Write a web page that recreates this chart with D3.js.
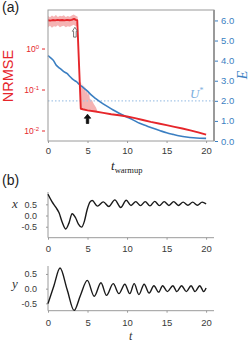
<!DOCTYPE html>
<html><head><meta charset="utf-8">
<script src="https://cdn.jsdelivr.net/npm/d3@7"></script>
<style>
body{margin:0;background:#fff;}
svg{display:block;}
text{font-family:"Liberation Sans",Arial,sans-serif;}
.math{font-family:"Liberation Serif","DejaVu Serif",serif;font-style:italic;}
</style></head><body>
<script>
// ---------- data ----------
const xTicksA = [0, 5, 10, 15, 20];
const nrmseTicks = [1, 0.1, 0.01];
const nrmseTickExp = ["0", "-1", "-2"];
const eTicks = [0, 1, 2, 3, 4, 5, 6];
const uStar = 2;

// red NRMSE mean line
const nrmseT = [0, 0.3, 0.6, 0.9, 1.2, 1.5, 1.8, 2.1, 2.4, 2.7, 3.0, 3.3, 3.5, 3.7, 4.15, 4.4, 5, 6, 7, 8, 9, 10, 11, 12, 13, 14, 15, 16, 17, 18, 19, 20];
const nrmseV = [4.9, 4.8, 4.95, 4.85, 5.0, 4.9, 4.95, 4.85, 5.0, 4.9, 5.0, 5.3, 5.0, 4.9, 0.034, 0.033, 0.031, 0.029, 0.027, 0.025, 0.0235, 0.022, 0.020, 0.018, 0.0162, 0.0148, 0.0135, 0.0123, 0.0112, 0.0101, 0.0090, 0.0079];

// shaded spread, plateau part
const bandT  = [0, 0.25, 0.5, 0.75, 1.0, 1.25, 1.5, 1.75, 2.0, 2.25, 2.5, 2.75, 3.0, 3.25, 3.5, 3.75];
const bandHi = [6.2, 5.8, 6.4, 6.0, 6.6, 5.9, 6.3, 6.1, 6.5, 5.9, 6.2, 6.0, 6.4, 6.8, 6.3, 6.0];
const bandLo = [3.3, 3.6, 3.2, 3.5, 3.4, 3.7, 3.3, 3.5, 3.6, 3.3, 3.5, 3.4, 3.6, 3.8, 3.5, 3.4];
// shaded spread, after the drop
const band2T  = [4.04, 4.17, 4.29, 4.42, 4.55, 4.67, 4.8, 4.92, 5.05, 5.18, 5.3, 5.56, 5.81, 6.06, 6.19];
const band2Hi = [0.144, 0.153, 0.109, 0.136, 0.097, 0.122, 0.082, 0.103, 0.074, 0.087, 0.059, 0.055, 0.044, 0.037, 0.032];
const band2Lo = [0.034, 0.034, 0.033, 0.033, 0.033, 0.032, 0.032, 0.031, 0.031, 0.031, 0.030, 0.030, 0.029, 0.029, 0.029];

// blue E curve
const eT = [0, 0.3, 0.7, 1.0, 1.3, 1.7, 2.0, 2.4, 2.8, 3.2, 3.6, 4.0, 4.5, 5.0, 5.5, 6.0, 6.6, 7.5, 8.25, 9, 9.9, 10.8, 11.6, 12.5, 13.3, 14.2, 15, 15.8, 16.7, 17.5, 18.4, 19.2, 20];
const eV = [4.25, 4.15, 4.0, 3.8, 3.68, 3.55, 3.45, 3.36, 3.2, 3.05, 2.95, 2.8, 2.65, 2.48, 2.28, 2.12, 1.95, 1.72, 1.54, 1.38, 1.21, 1.04, 0.88, 0.75, 0.63, 0.51, 0.41, 0.33, 0.25, 0.2, 0.16, 0.14, 0.13];

// arrows: [t, tip value, tail value]
const arrowT    = [3.4, 5.0];
const arrowTip  = [3.3, 0.025];
const arrowTail = [1.9, 0.0148];

// panel (b)
const xTicksB = [0, 5, 10, 15, 20];
const yTicksB = [0.5, 0.0, -0.5];
const tX = [0, 0.5, 1.0, 1.4, 1.8, 2.25, 2.65, 3.05, 3.5, 3.85, 4.25, 4.6, 4.95, 5.3, 5.6, 6.25, 7.0, 7.7, 8.45, 9.2, 9.9, 10.5, 11.1, 11.7, 12.3, 12.9, 13.5, 14.1, 14.7, 15.3, 15.9, 16.5, 17.1, 17.7, 18.3, 18.9, 19.5, 20];
const vX = [0.95, 0.62, 0.36, 0.12, -0.3, -0.6, -0.34, 0.08, -0.11, -0.38, -0.52, -0.26, 0.26, 0.6, 0.67, 0.42, 0.61, 0.4, 0.7, 0.36, 0.68, 0.45, 0.62, 0.44, 0.62, 0.43, 0.63, 0.44, 0.62, 0.45, 0.62, 0.45, 0.6, 0.46, 0.6, 0.46, 0.6, 0.52];
const tY = [0, 0.75, 1.52, 2.41, 3.3, 4.1, 4.97, 5.85, 6.7, 7.4, 8.25, 8.97, 9.72, 10.35, 10.9, 11.5, 12.16, 12.8, 13.4, 14.0, 14.5, 15.1, 15.8, 16.3, 16.9, 17.5, 18.1, 18.6, 19.2, 19.7, 20];
const vY = [-0.51, 0.1, 0.7, -0.02, -0.74, -0.23, 0.28, -0.26, 0.2, -0.23, 0.17, -0.17, 0.15, -0.17, 0.17, -0.2, 0.15, -0.15, 0.1, -0.12, 0.1, -0.1, 0.1, -0.1, 0.1, -0.1, 0.1, -0.1, 0.1, -0.1, 0.02];

// ---------- drawing ----------
const RED = "#e6262b", BLUE = "#3b7fc2", LBLUE = "#a6c6e8", GRAY = "#9a9a9a", TXT = "#3a3a3a";
const svg = d3.select("body").append("svg").attr("width", 249).attr("height", 342);

const xA = d3.scaleLinear([0, 21], [48, 214]);
const yN = d3.scaleLog([Math.pow(10, -2.256), Math.pow(10, 0.94)], [141, 10]);
const yE = d3.scaleLinear([0, 6.52], [141, 10]);

// bands
const area = (T, lo, hi) => d3.area().x((d, i) => xA(T[i])).y0((d, i) => yN(lo[i])).y1((d, i) => yN(hi[i]));
svg.append("path").attr("d", area(bandT, bandLo, bandHi)(bandT)).attr("fill", "#f08a8a").attr("opacity", 0.65);
svg.append("path").attr("d", area(band2T, band2Lo, band2Hi)(band2T)).attr("fill", "#f08a8a").attr("opacity", 0.65);

// U* dotted
svg.append("line").attr("x1", 48).attr("x2", 214).attr("y1", yE(uStar)).attr("y2", yE(uStar))
  .attr("stroke", LBLUE).attr("stroke-width", 1.3).attr("stroke-dasharray", "1.5,2");

// blue E line
svg.append("path").attr("d", d3.line().x((d, i) => xA(eT[i])).y(d => yE(d)).curve(d3.curveMonotoneX)(eV))
  .attr("fill", "none").attr("stroke", BLUE).attr("stroke-width", 1.6);
// red NRMSE line
svg.append("path").attr("d", d3.line().x((d, i) => xA(nrmseT[i])).y(d => yN(d))(nrmseV))
  .attr("fill", "none").attr("stroke", RED).attr("stroke-width", 1.9).attr("stroke-linejoin", "round");

// arrows
arrowT.forEach((t, i) => {
  const x = xA(t), y0 = yN(arrowTip[i]), y1 = yN(arrowTail[i]);
  const hw = i === 0 ? 2.5 : 3.2, bw = i === 0 ? 1.3 : 1.2, hl = 4;
  const pts = [[x, y0], [x + hw, y0 + hl], [x + bw, y0 + hl], [x + bw, y1], [x - bw, y1], [x - bw, y0 + hl], [x - hw, y0 + hl]];
  svg.append("path").attr("d", "M" + pts.join("L") + "Z")
    .attr("fill", i === 0 ? "#fff" : "#111").attr("stroke", i === 0 ? "#555" : "#111").attr("stroke-width", 0.8);
});

// frame
svg.append("rect").attr("x", 48).attr("y", 10).attr("width", 166).attr("height", 131)
  .attr("fill", "none").attr("stroke", GRAY).attr("stroke-width", 1);
svg.append("line").attr("x1", 214).attr("x2", 214).attr("y1", 10).attr("y2", 141).attr("stroke", GRAY).attr("stroke-width", 2);

// axes panel a
const gBA = svg.append("g").attr("transform", "translate(0,141)")
  .call(d3.axisBottom(xA).tickValues(xTicksA).tickSize(2).tickPadding(4.5));
gBA.select(".domain").remove();
gBA.selectAll("line").attr("stroke", GRAY);
gBA.selectAll("text").attr("fill", TXT).style("font-size", "9.5px");

const gL = svg.append("g").attr("transform", "translate(45,0)")
  .call(d3.axisLeft(yN).tickValues(nrmseTicks).tickSize(3).tickPadding(3).tickFormat(() => ""));
gL.select(".domain").remove();
gL.selectAll("line").attr("stroke", RED);
gL.selectAll(".tick text").each(function (d, i) {
  const t = d3.select(this).attr("fill", RED).style("font-size", "8.5px");
  t.append("tspan").text("10");
  t.append("tspan").attr("dy", "-0.45em").style("font-size", "6px").text(nrmseTickExp[i]);
});

const gR = svg.append("g").attr("transform", "translate(215,0)")
  .call(d3.axisRight(yE).tickValues(eTicks).tickSize(3).tickPadding(3));
gR.select(".domain").remove();
gR.selectAll("line").attr("stroke", BLUE);
gR.selectAll("text").attr("fill", BLUE).style("font-size", "9.5px");

// labels panel a
svg.append("text").attr("x", 2).attr("y", 12).style("font-size", "14px").attr("fill", "#222").text("(a)");
svg.append("text").attr("transform", "translate(13,76) rotate(-90)").attr("text-anchor", "middle")
  .style("font-size", "14.5px").attr("fill", RED).text("NRMSE");
svg.append("text").attr("class", "math").attr("transform", "translate(247,75) rotate(-90)").attr("text-anchor", "middle")
  .style("font-size", "14px").attr("fill", BLUE).text("E");
const us = svg.append("text").attr("class", "math").attr("x", 190).attr("y", 97.5).style("font-size", "13px").attr("fill", "#7aaedd");
us.append("tspan").text("U");
us.append("tspan").attr("dy", "-5").style("font-size", "8px").style("font-style", "normal").text("*");
const tw = svg.append("text").attr("x", 111).attr("y", 170).attr("fill", "#222");
tw.append("tspan").attr("class", "math").style("font-size", "13px").text("t");
tw.append("tspan").attr("dy", 2.5).style("font-family", "Liberation Serif, serif").style("font-size", "8.5px").text("warmup");

// panel b
svg.append("text").attr("x", 2).attr("y", 185).style("font-size", "14px").attr("fill", "#222").text("(b)");
function subplot(T, V, yDom, yTop, yBot, label, labelY, padB) {
  const ys = d3.scaleLinear(yDom, [yBot, yTop]);
  svg.append("line").attr("x1", 48).attr("x2", 48).attr("y1", yTop).attr("y2", yBot).attr("stroke", GRAY);
  svg.append("line").attr("x1", 48).attr("x2", 214).attr("y1", yBot).attr("y2", yBot).attr("stroke", GRAY);
  const gl = svg.append("g").attr("transform", "translate(48,0)")
    .call(d3.axisLeft(ys).tickValues(yTicksB).tickSize(2).tickPadding(9).tickFormat(v => v.toFixed(1)));
  gl.select(".domain").remove();
  gl.selectAll("line").attr("stroke", GRAY);
  gl.selectAll("text").attr("fill", TXT).style("font-size", "9px");
  const gb = svg.append("g").attr("transform", `translate(0,${yBot})`)
    .call(d3.axisBottom(xA).tickValues(xTicksB).tickSize(2).tickPadding(padB));
  gb.select(".domain").remove();
  gb.selectAll("line").attr("stroke", GRAY);
  gb.selectAll("text").attr("fill", TXT).style("font-size", "9.5px");
  svg.append("path").attr("d", d3.line().x((d, i) => xA(T[i])).y(d => ys(d)).curve(d3.curveMonotoneX)(V))
    .attr("fill", "none").attr("stroke", "#1a1a1a").attr("stroke-width", 1.4);
  svg.append("text").attr("class", "math").attr("x", 12).attr("y", labelY).style("font-size", "13px").attr("fill", "#333").text(label);
}
subplot(tX, vX, [-0.99, 1.05], 192, 237.7, "x", 208, 5.5);
subplot(tY, vY, [-0.75, 0.77], 266, 310.7, "y", 287.5, 6.5);
svg.append("text").attr("class", "math").attr("x", 129).attr("y", 340).style("font-size", "12px").attr("fill", "#333").text("t");
</script>
</body></html>
